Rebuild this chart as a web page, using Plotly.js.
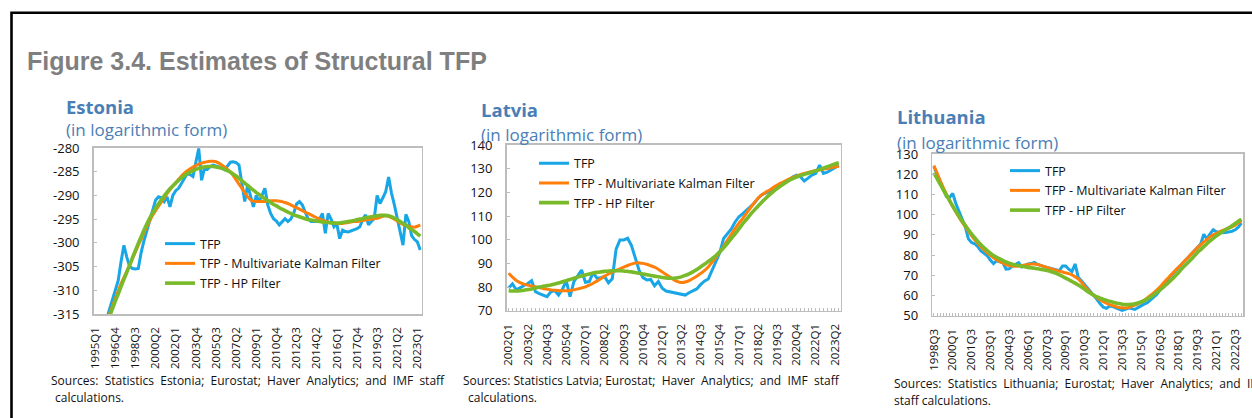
<!DOCTYPE html>
<html><head><meta charset="utf-8">
<script src="https://cdn.plot.ly/plotly-3.0.1.min.js"></script>
<style>html,body{margin:0;padding:0;background:#fff}#chart{width:1252px;height:418px}</style>
</head><body><div id="chart"></div>
<script>
// ---------- DATA ----------
const estoniaStart = [1995, 1], estoniaCount = 114, estoniaLabelStep = 7;
const latviaStart = [2002, 1], latviaCount = 87, latviaLabelStep = 5;
const lithuaniaStart = [1998, 3], lithuaniaCount = 99, lithuaniaLabelStep = 6;

const seriesNames = ['TFP', 'TFP - Multivariate Kalman Filter', 'TFP - HP Filter'];

const estoniaYTicks = [-315, -310, -305, -300, -295, -290, -285, -280];
const latviaYTicks = [70, 80, 90, 100, 110, 120, 130, 140];
const lithuaniaYTicks = [50, 60, 70, 80, 90, 100, 110, 120, 130];

const estoniaTFP = [-321,-320,-318.5,-317.5,-316,-314,-312.5,-310.5,-308,-304,
-300.5,-303,-305,-305.4,-305.5,-305.4,-302,-299.5,-297.5,-295.5,
-293,-291,-290.3,-290.5,-291.3,-290.3,-292.4,-290,-289,-288.5,
-287.5,-286.4,-285.4,-285.6,-286,-283,-280.1,-286.8,-284.3,-284.5,
-283.9,-283.6,-283.8,-283.9,-284.2,-284.6,-283.8,-283.0,-282.9,-283.1,
-283.6,-288,-291.3,-287.8,-290.3,-292.4,-290,-291.3,-290,-288.5,
-292,-293.8,-294.9,-295.4,-296.2,-295.5,-294.9,-295.5,-295,-293.8,
-291.8,-291.3,-292,-293.5,-294.9,-295.5,-295.5,-295.5,-295,-293.8,
-298,-293.8,-295,-296.6,-296,-299.1,-297.3,-297.6,-297.7,-297.5,
-297.3,-297,-296.6,-295,-294.1,-296.2,-295.5,-294.9,-290,-291.7,
-290.5,-289.2,-286.1,-289.5,-292,-295,-297.5,-300.5,-294,-295.5,
-298.5,-299.3,-299.8,-301.5];
const estoniaKalman = [-322.5,-321.0,-319.5,-318.0,-316.5,-315.0,-313.4,-311.8,-310.2,-308.6,
-307.3,-306.0,-304.7,-303.3,-301.9,-300.5,-299.2,-297.8,-296.5,-295.3,
-294.2,-293.2,-292.3,-291.4,-290.5,-289.6,-288.8,-288.0,-287.3,-286.6,
-285.9,-285.3,-284.8,-284.4,-284.0,-283.7,-283.4,-283.2,-283.0,-282.9,
-282.8,-282.8,-282.9,-283.2,-283.6,-284.0,-284.5,-285.0,-285.8,-286.7,
-287.6,-288.5,-289.4,-290.3,-290.9,-291.2,-291.3,-291.3,-291.3,-291.3,
-291.2,-291.1,-291.1,-291.1,-291.2,-291.3,-291.5,-291.7,-292.0,-292.3,
-292.6,-292.9,-293.2,-293.5,-293.8,-294.1,-294.4,-294.7,-295.0,-295.2,
-295.4,-295.6,-295.7,-295.8,-295.9,-295.9,-295.9,-295.8,-295.7,-295.6,
-295.5,-295.5,-295.4,-295.3,-295.2,-295.1,-295.0,-294.9,-294.8,-294.6,
-294.4,-294.3,-294.4,-294.7,-295.0,-295.4,-295.8,-296.1,-296.3,-296.5,
-296.6,-296.7,-296.5,-296.2];
const estoniaHP = [-323.5,-322.0,-320.3,-318.7,-317.1,-315.5,-313.9,-312.3,-310.8,-309.2,
-307.7,-306.2,-304.7,-303.1,-301.6,-300.1,-298.7,-297.3,-296.0,-294.8,
-293.7,-292.7,-291.8,-290.9,-290.1,-289.3,-288.6,-288.0,-287.4,-286.8,
-286.3,-285.8,-285.4,-285.1,-284.8,-284.5,-284.3,-284.1,-284.0,-283.9,
-283.9,-283.9,-284.0,-284.1,-284.3,-284.5,-284.8,-285.1,-285.5,-285.9,
-286.4,-286.9,-287.4,-287.9,-288.4,-288.9,-289.4,-289.8,-290.3,-290.7,
-291.1,-291.5,-291.9,-292.2,-292.6,-292.9,-293.2,-293.5,-293.8,-294.1,
-294.3,-294.5,-294.7,-294.9,-295.1,-295.2,-295.3,-295.4,-295.5,-295.6,
-295.7,-295.7,-295.8,-295.8,-295.8,-295.8,-295.7,-295.6,-295.5,-295.4,
-295.3,-295.1,-295.0,-294.9,-294.7,-294.6,-294.5,-294.4,-294.3,-294.2,
-294.2,-294.2,-294.3,-294.5,-294.8,-295.1,-295.5,-295.9,-296.3,-296.8,
-297.2,-297.6,-298.1,-298.6];

const latviaTFP = [79.6,81.3,78.8,79.6,80.5,81.5,82.7,78.0,77.2,76.6,
75.9,78.0,78.5,76.6,79.0,82.7,75.9,82.3,84.5,87.2,
82.0,82.3,86.1,83.7,83.9,84.4,81.8,83.5,96.0,99.9,
99.9,100.6,97.5,92.0,87.0,84.0,83.0,83.2,80.5,82.3,
79.5,78.3,78.0,77.7,77.4,76.8,76.6,77.6,78.4,79.2,
81.0,82.5,83.4,87.0,90.5,94.5,100.5,102.5,104.5,107.5,
109.7,111.0,112.5,113.9,115.5,117.5,119.0,119.8,120.3,121.2,
122.0,122.9,124.0,125.0,126.5,127.3,126.6,124.8,126.0,127.3,
128.0,131.5,128.0,128.5,129.5,130.5,131.5];
const latviaKalman = [85.8,84.2,82.8,81.9,81.2,80.8,80.4,80.1,79.8,79.4,
79.1,78.8,78.6,78.5,78.4,78.4,78.5,78.8,79.2,79.6,
80.1,80.8,81.6,82.5,83.5,84.6,85.5,86.3,87.0,87.7,
88.4,89.1,89.7,90.1,90.2,90.0,89.6,89.0,88.4,87.5,
86.4,85.3,84.2,83.1,82.3,81.9,82.1,82.7,83.6,84.6,
85.7,86.9,88.5,90.5,92.5,94.8,97.2,99.8,102.3,104.7,
107.0,109.0,111.3,113.5,115.6,117.6,119.1,120.1,121.0,122.1,
123.1,124.0,124.8,125.6,126.3,126.9,127.5,128.0,128.4,128.8,
129.2,129.5,129.8,130.1,130.4,130.7,131.0];
const latviaHP = [78.4,78.3,78.3,78.4,78.6,78.9,79.2,79.6,80.0,80.3,
80.6,80.9,81.3,81.7,82.2,82.7,83.2,83.7,84.2,84.7,
85.1,85.5,85.9,86.2,86.4,86.6,86.8,86.9,86.9,86.9,
86.8,86.6,86.4,86.1,85.8,85.5,85.2,84.9,84.6,84.3,
84.0,83.8,83.7,83.7,83.9,84.3,84.9,85.6,86.4,87.4,
88.5,89.6,90.8,92.0,93.3,94.9,96.6,98.5,100.5,102.5,
104.6,106.8,108.7,110.7,112.5,114.2,115.9,117.5,119.0,120.4,
121.7,122.9,124.0,125.0,125.8,126.5,127.1,127.6,128.1,128.6,
129.1,129.6,130.2,130.8,131.4,132.0,132.5];

const lithuaniaTFP = [123.9,120.0,116.0,112.5,109.0,108.5,110.5,105.5,101.5,97.7,
94.0,88.0,86.2,85.6,84.2,82.0,80.8,79.7,77.5,75.8,
77.2,76.8,76.2,73.0,73.2,74.5,75.5,76.2,74.2,74.8,
75.6,75.8,76.4,75.4,74.8,74.2,73.9,73.5,73.1,72.6,
72.3,74.6,74.6,73.0,71.8,75.6,69.0,67.3,65.5,63.5,
61.5,60.0,58.0,55.9,54.2,53.6,54.8,54.5,53.8,53.2,
52.6,53.1,53.8,53.5,53.1,54.0,55.0,55.7,56.4,57.7,
59.0,60.5,62.5,64.7,66.8,68.8,70.5,72.3,74.0,75.6,
77.2,78.8,80.4,82.1,83.8,85.4,90.3,88.0,90.5,92.5,
91.5,91.1,91.0,91.1,91.3,91.8,92.5,93.8,95.8];
const lithuaniaKalman = [124.3,120.6,116.9,113.4,110.1,107.0,104.0,101.3,98.7,96.3,
94.0,91.8,89.6,87.6,85.8,84.0,82.5,81.1,79.9,78.7,
77.7,76.8,76.0,75.3,74.8,74.6,74.5,74.6,74.8,75.1,
75.4,75.6,75.6,75.3,74.9,74.4,73.9,73.4,72.9,72.4,
72.0,71.6,71.2,70.8,70.2,69.3,68.2,66.5,64.6,62.9,
61.3,59.9,58.8,57.8,56.9,56.2,55.5,55.0,54.5,54.1,
53.9,53.8,54.0,54.6,55.2,55.9,56.6,57.7,58.8,60.0,
61.3,62.7,64.2,65.9,67.6,69.3,70.9,72.5,74.1,75.6,
77.2,78.8,80.5,82.1,83.7,85.1,86.5,87.8,89.0,90.0,
90.8,91.5,92.2,92.8,93.4,94.0,94.8,95.8,96.9];
const lithuaniaHP = [120.7,117.9,115.1,112.3,109.6,106.9,104.3,101.7,99.2,96.9,
94.7,92.5,90.5,88.6,86.7,85.1,83.6,82.2,80.9,79.8,
78.9,78.1,77.3,76.6,76.0,75.5,75.1,74.8,74.5,74.2,
73.9,73.7,73.5,73.2,73.0,72.7,72.4,72.0,71.5,70.9,
70.2,69.4,68.6,67.8,66.9,66.1,65.2,64.2,63.1,62.0,
61.0,60.1,59.3,58.7,58.1,57.6,57.1,56.7,56.3,56.0,
55.7,55.5,55.5,55.6,55.9,56.3,56.8,57.4,58.2,59.2,
60.3,61.4,62.6,64.0,65.3,66.8,68.2,69.8,71.4,73.2,
74.8,76.3,77.9,79.6,81.3,82.7,84.2,85.6,87.0,88.3,
89.5,90.6,91.6,92.5,93.5,94.5,95.6,96.7,97.7];

// ---------- HELPERS ----------
function quarters(start, n) {
  const out = []; let y = start[0], q = start[1];
  for (let i = 0; i < n; i++) { out.push(y + 'Q' + q); q++; if (q > 4) { q = 1; y++; } }
  return out;
}
const W = 1252, H = 418;
const px = v => v / W, py = v => 1 - v / H;

const FONT = 'Open Sans';
const COLORS = ['#19A6E6', '#FF7F0A', '#79BA2B'];
const WIDTHS = [3, 3, 3.6];
const AXC = '#BDBDBD';
const BLUE_T = '#4A7EB6';

const panels = [
  {cats: quarters(estoniaStart, estoniaCount), step: estoniaLabelStep, data: [estoniaTFP, estoniaKalman, estoniaHP],
   xd: [93.7, 421.7], yd: [314, 148], range: [-315, -280], yt: estoniaYTicks, topTicks: true, legend: [160, 229]},
  {cats: quarters(latviaStart, latviaCount), step: latviaLabelStep, data: [latviaTFP, latviaKalman, latviaHP],
   xd: [506.7, 840.7], yd: [310.7, 145], range: [70, 140], yt: latviaYTicks, topTicks: false, legend: [534, 148.5]},
  {cats: quarters(lithuaniaStart, lithuaniaCount), step: lithuaniaLabelStep, data: [lithuaniaTFP, lithuaniaKalman, lithuaniaHP],
   xd: [932.3, 1243], yd: [315.7, 154], range: [50, 130], yt: lithuaniaYTicks, topTicks: false, legend: [1005, 156]}
];

const traces = [];
const layout = {
  width: W, height: H, margin: {l: 0, r: 0, t: 0, b: 0},
  paper_bgcolor: '#fff', plot_bgcolor: '#fff', showlegend: true,
  font: {family: FONT, color: '#111'},
  annotations: [], shapes: []
};

panels.forEach((p, k) => {
  const xa = k === 0 ? 'x' : 'x' + (k + 1), ya = k === 0 ? 'y' : 'y' + (k + 1);
  const lg = k === 0 ? 'legend' : 'legend' + (k + 1);
  p.data.forEach((vals, s) => {
    traces.push({
      type: 'scatter', mode: 'lines', x: p.cats, y: vals, xaxis: xa, yaxis: ya,
      name: seriesNames[s], legend: lg, legendgroup: 'g' + k + s,
      line: {color: COLORS[s], width: WIDTHS[s], shape: s === 0 ? 'linear' : 'spline', smoothing: 0.6},
      hoverinfo: 'skip'
    });
  });
  const n = p.cats.length;
  const ticktext = p.cats.map((c, i) => (i % p.step === 0 ? c : ''));
  layout['xaxis' + (k === 0 ? '' : k + 1)] = {
    domain: [px(p.xd[0]), px(p.xd[1])], anchor: ya, type: 'category',
    range: [-0.5, n - 0.5], tickmode: 'array', tickvals: p.cats, ticktext: ticktext,
    tickangle: -90, tickfont: {family: FONT, size: 11.5, color: '#111'},
    ticks: p.topTicks ? '' : 'inside', ticklen: 3, tickwidth: 1, tickcolor: AXC,
    ticklabelstandoff: 7,
    showline: true, linecolor: AXC, linewidth: 1.6, mirror: true,
    showgrid: false, zeroline: false, fixedrange: true
  };
  layout['yaxis' + (k === 0 ? '' : k + 1)] = {
    domain: [py(p.yd[0]), py(p.yd[1])], anchor: xa, range: p.range,
    tickmode: 'array', tickvals: p.yt, ticktext: p.yt.map(v => String(v)),
    ticks: 'inside', ticklen: 3, tickwidth: 1, tickcolor: AXC, ticklabelstandoff: 10,
    tickfont: {family: FONT, size: 13, color: '#111'},
    showline: true, linecolor: AXC, linewidth: 1.6, mirror: true,
    showgrid: false, zeroline: false, fixedrange: true
  };
  layout[lg] = {
    x: px(p.legend[0]), y: py(p.legend[1]), xanchor: 'left', yanchor: 'top',
    bgcolor: 'rgba(0,0,0,0)', borderwidth: 0, traceorder: 'grouped', tracegroupgap: 0.5,
    font: {family: FONT, size: 12.5, color: '#111'}, itemwidth: 30
  };
});

// tick marks along the top for Estonia (horizontal axis crosses at the top)
layout.xaxis4 = {
  overlaying: 'x', anchor: 'y', side: 'top', type: 'linear',
  range: [-0.5, estoniaCount - 0.5], tickmode: 'linear', tick0: 0, dtick: 1,
  ticks: 'inside', ticklen: 3, tickwidth: 1, tickcolor: AXC,
  showticklabels: false, showgrid: false, zeroline: false, showline: false, fixedrange: true
};

function txt(text, x, y, size, color, bold, family) {
  layout.annotations.push({
    text: bold ? '<b>' + text + '</b>' : text, xref: 'paper', yref: 'paper',
    x: px(x), y: py(y), xanchor: 'left', yanchor: 'middle', showarrow: false,
    font: {family: family || FONT, size: size, color: color}
  });
}
// widen word gaps a little, like the justified source notes
const wide = s => s.replace(/ /g, ' \u00A0');

txt('Figure 3.4. Estimates of Structural TFP', 25, 61, 25, '#7F7F7F', true, 'Liberation Sans');
txt('Estonia', 64, 106, 18.5, BLUE_T, true);
txt('(in logarithmic form)', 64, 130, 17, BLUE_T, false);
txt('Latvia', 479, 110, 18.5, BLUE_T, true);
txt('(in logarithmic form)', 479, 134, 17, BLUE_T, false);
txt('Lithuania', 895, 117, 18.5, BLUE_T, true);
txt('(in logarithmic form)', 895, 142, 17, BLUE_T, false);

txt(wide('Sources: Statistics Estonia; Eurostat; Haver Analytics; and IMF staff'), 49, 380, 12, '#111', false);
txt('calculations.', 53, 397, 12, '#111', false);
txt('Sources: Statistics Latvia; Eurostat;' + wide(' Haver Analytics; and IMF staff'), 461, 380, 12, '#111', false);
txt('calculations.', 466, 397, 12, '#111', false);
txt(wide('Sources: Statistics Lithuania; Eurostat; Haver Analytics; and IMF'), 892, 383, 12, '#111', false);
txt('staff calculations.', 892, 400, 12, '#111', false);

// outer frame
layout.shapes.push({type: 'rect', xref: 'paper', yref: 'paper', x0: px(11.5), x1: 1.2, y0: -0.2, y1: py(12.7),
  line: {color: '#000', width: 2.6}, fillcolor: 'rgba(0,0,0,0)', layer: 'above'});

Plotly.newPlot('chart', traces, layout, {staticPlot: true, displayModeBar: false});
</script></body></html>
